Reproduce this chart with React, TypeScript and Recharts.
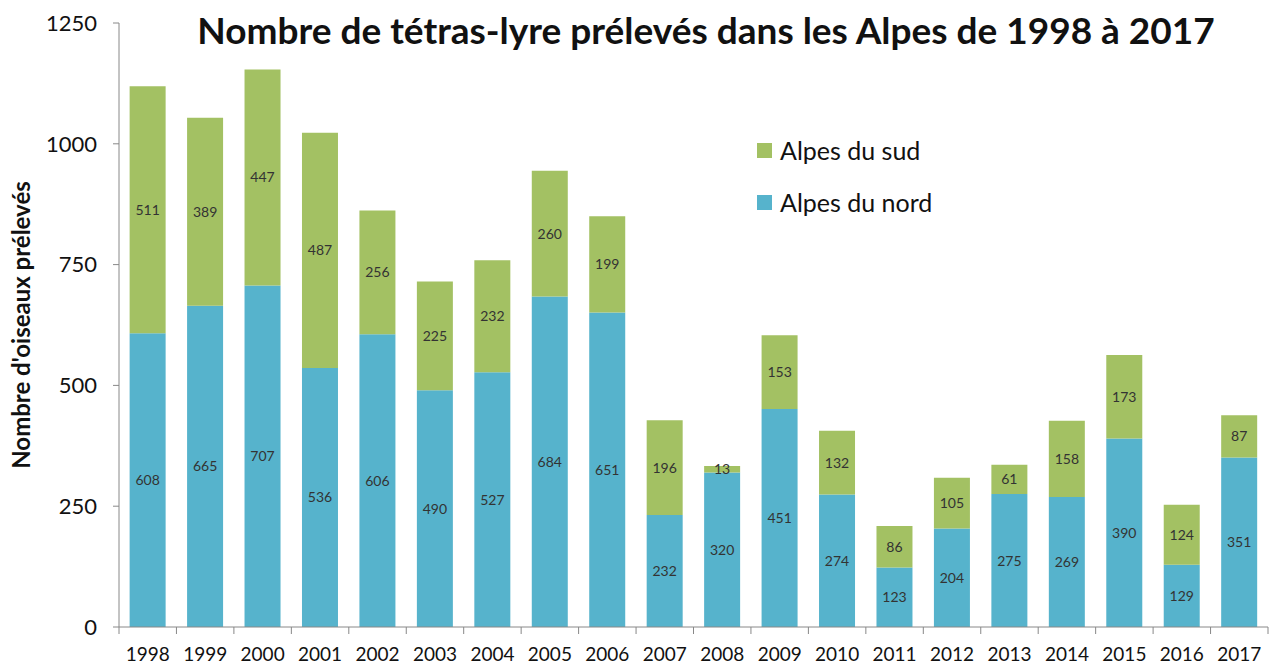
import React from 'react';
import { BarChart, Bar, XAxis, YAxis, LabelList } from 'recharts';

const years = ['1998', '1999', '2000', '2001', '2002', '2003', '2004', '2005', '2006', '2007',
  '2008', '2009', '2010', '2011', '2012', '2013', '2014', '2015', '2016', '2017'];
const nord = [608, 665, 707, 536, 606, 490, 527, 684, 651, 232, 320, 451, 274, 123, 204, 275, 269, 390, 129, 351];
const sud = [511, 389, 447, 487, 256, 225, 232, 260, 199, 196, 13, 153, 132, 86, 105, 61, 158, 173, 124, 87];
const yTicks = [0, 250, 500, 750, 1000, 1250];

const data = years.map((year, i) => ({ year, nord: nord[i], sud: sud[i] }));

const GREEN = '#a3c163';
const BLUE = '#56b3cc';
const FONT = 'Lato, "Open Sans", sans-serif';
const PLOT_W = 1149;
const STEP = PLOT_W / years.length;

function YearTick(props: any) {
  const { x, y, payload, index } = props;
  const last = index === years.length - 1;
  return (
    <g>
      <line x1={x - STEP / 2} x2={x - STEP / 2} y1={y} y2={y + 7} stroke="#888" />
      {last && <line x1={x + STEP / 2} x2={x + STEP / 2} y1={y} y2={y + 7} stroke="#888" />}
      <text x={x} y={y + 26} textAnchor="middle" dominantBaseline="central"
        fontSize={19} fontFamily={FONT} fill="#111">{payload.value}</text>
    </g>
  );
}

function LegendBox() {
  const items = [
    { label: 'Alpes du sud', color: GREEN },
    { label: 'Alpes du nord', color: BLUE },
  ];
  return (
    <div style={{ position: 'absolute', left: 757, top: 124, fontFamily: FONT }}>
      {items.map((it) => (
        <div key={it.label} style={{ display: 'flex', alignItems: 'center', height: 52 }}>
          <span style={{ width: 15, height: 15, background: it.color, marginRight: 8, display: 'inline-block' }} />
          <span style={{ fontSize: 25, color: '#111' }}>{it.label}</span>
        </div>
      ))}
    </div>
  );
}

export default function App() {
  return (
    <div style={{ position: 'absolute', left: 0, top: 0, width: 1274, height: 666, background: '#fff' }}>
      <BarChart width={1274} height={666} data={data}
        margin={{ top: 23, right: 6, bottom: 0, left: 0 }} barCategoryGap="18.5%">
        <XAxis dataKey="year" height={39} tickLine={false} tickSize={0} tickMargin={0}
          stroke="#888" tick={<YearTick />} interval={0} />
        <YAxis width={119} domain={[0, 1250]} ticks={yTicks} stroke="#888" tickSize={6} tickMargin={16}
          tick={{ fontSize: 22, fontFamily: FONT, fill: '#111' }} />
        <Bar dataKey="nord" stackId="a" fill={BLUE} isAnimationActive={false}>
          <LabelList dataKey="nord" position="center" fontSize={14} fontFamily={FONT} fill="#333" />
        </Bar>
        <Bar dataKey="sud" stackId="a" fill={GREEN} isAnimationActive={false}>
          <LabelList dataKey="sud" position="center" fontSize={14} fontFamily={FONT} fill="#333" />
        </Bar>
      </BarChart>
      <LegendBox />
      <div style={{ position: 'absolute', left: 0, top: 8, width: 1412, textAlign: 'center',
        fontFamily: FONT, fontWeight: 700, fontSize: 37, lineHeight: '44px', color: '#111' }}>
        Nombre de tétras-lyre prélevés dans les Alpes de 1998 à 2017
      </div>
      <div style={{ position: 'absolute', left: 20, top: 325, transform: 'translate(-50%, -50%) rotate(-90deg)',
        whiteSpace: 'nowrap', fontFamily: FONT, fontWeight: 700, fontSize: 24, color: '#111' }}>
        Nombre d'oiseaux prélevés
      </div>
    </div>
  );
}
